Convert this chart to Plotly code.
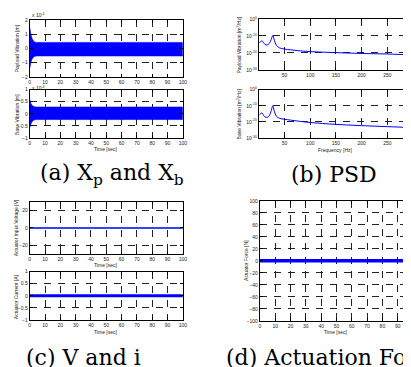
import plotly.graph_objects as go

W, H = 411, 367

# ---------------- data ----------------
# (a) time-domain vibration envelopes (units of 1e-4 m)
t_env = [0, 0.3, 0.8, 1.5, 2.5, 4, 100]
payload_upper = [1.45, 1.2, 0.95, 0.7, 0.5, 0.42, 0.42]
payload_lower = [-1.4, -1.2, -0.95, -0.75, -0.6, -0.53, -0.53]
base_upper = [0.6, 0.5, 0.42, 0.35, 0.3, 0.28, 0.28]
base_lower = [-0.58, -0.5, -0.42, -0.33, -0.27, -0.24, -0.24]

# (b) PSD (log10 of m^2/Hz)
freq = [1, 3, 6, 9, 12, 16, 20, 24, 27, 30, 34, 40, 50, 75, 100, 150, 200, 250, 300]
psd_payload_log10 = [-14.2, -13.5, -12.8, -14.0, -15.0, -15.3, -14.5, -12.0, -9.8,
                     -12.5, -15.5, -17.0, -17.7, -18.6, -19.2, -19.8, -20.3, -20.6, -21.2]
psd_base_log10 = [-15.6, -15.0, -14.4, -16.0, -17.0, -17.2, -16.3, -13.0, -10.0,
                  -13.5, -16.5, -17.8, -18.4, -19.5, -20.4, -21.6, -22.4, -23.0, -23.6]

# (c), (d) actuator signals
t_line = [0, 100]
voltage = [0, 0]
current = [0, 0]
force = [0, 0]

time_ticks = [0, 10, 20, 30, 40, 50, 60, 70, 80, 90, 100]
freq_ticks = [50, 100, 150, 200, 250, 300]
psd_ticks = [1e0, 1e-10, 1e-20, 1e-30]
psd_ticklabels = ["10<sup>0</sup>", "10<sup>-10</sup>", "10<sup>-20</sup>", "10<sup>-30</sup>"]

# ---------------- layout helpers ----------------
BLUE = "#0000ff"
TICKFONT = dict(family="Liberation Sans, Arial, sans-serif", size=5, color="#222222")
TITLEFONT = dict(family="Liberation Sans, Arial, sans-serif", size=5, color="#222222")

def xdom(a, b):
    return [a / W, b / W]

def ydom(top, bottom):
    return [1 - bottom / H, 1 - top / H]

def axis_common():
    return dict(showline=True, linecolor="black", linewidth=1, mirror="ticks",
                ticks="inside", ticklen=3, tickcolor="black", tickwidth=1,
                showgrid=True, gridcolor="#222222", gridwidth=1, griddash="7px,7px",
                zeroline=False, tickfont=TICKFONT)

fig = go.Figure()
layout = dict(width=W, height=H, margin=dict(l=0, r=0, t=0, b=0),
              paper_bgcolor="white", plot_bgcolor="white", showlegend=False)

panels = [
    ("1", (21, 176), (9, 67)),
    ("2", (21, 176), (80, 129)),
    ("3", (253, 409), (8, 60)),
    ("4", (253, 409), (80, 129)),
    ("5", (21, 176), (194, 247)),
    ("6", (21, 176), (265, 314)),
    ("7", (254, 409), (193, 315)),
]
for name, xp, yp in panels:
    xa = axis_common()
    ya = axis_common()
    xa.update(domain=xdom(*xp), anchor="y" + name)
    ya.update(domain=ydom(*yp), anchor="x" + name)
    layout["xaxis" + name] = xa
    layout["yaxis" + name] = ya

for n in ["1", "2", "5", "6", "7"]:
    layout["xaxis" + n].update(range=[0, 100], tickvals=time_ticks)
for n in ["3", "4"]:
    layout["xaxis" + n].update(range=[0, 300], tickvals=freq_ticks)
    layout["yaxis" + n].update(type="log", range=[-30, 0], tickvals=psd_ticks,
                               ticktext=psd_ticklabels)
layout["yaxis1"].update(range=[-2, 2], tickvals=[-2, -1, 0, 1, 2])
layout["yaxis2"].update(range=[-1, 1], tickvals=[-1, -0.5, 0, 0.5, 1])
layout["yaxis5"].update(range=[-30, 30], tickvals=[-20, 0, 20])
layout["yaxis6"].update(range=[-1, 1], tickvals=[-1, -0.5, 0, 0.5, 1])
layout["yaxis7"].update(range=[-100, 100], tickvals=list(range(-100, 101, 20)))

# ---------------- traces ----------------
def band(upper, lower, n):
    fig.add_trace(go.Scatter(x=t_env, y=upper, mode="lines", line=dict(color=BLUE, width=0.6),
                             xaxis="x" + n, yaxis="y" + n, hoverinfo="skip"))
    fig.add_trace(go.Scatter(x=t_env, y=lower, mode="lines", line=dict(color=BLUE, width=0.6),
                             fill="tonexty", fillcolor=BLUE,
                             xaxis="x" + n, yaxis="y" + n, hoverinfo="skip"))

band(payload_upper, payload_lower, "1")
band(base_upper, base_lower, "2")

fig.add_trace(go.Scatter(x=freq, y=[10 ** v for v in psd_payload_log10], mode="lines",
                         line=dict(color=BLUE, width=1, shape="spline"), xaxis="x3", yaxis="y3"))
fig.add_trace(go.Scatter(x=freq, y=[10 ** v for v in psd_base_log10], mode="lines",
                         line=dict(color=BLUE, width=1, shape="spline"), xaxis="x4", yaxis="y4"))

fig.add_trace(go.Scatter(x=t_line, y=voltage, mode="lines", line=dict(color="#3344ff", width=2),
                         xaxis="x5", yaxis="y5"))
fig.add_trace(go.Scatter(x=t_line, y=current, mode="lines", line=dict(color=BLUE, width=3),
                         xaxis="x6", yaxis="y6"))
fig.add_trace(go.Scatter(x=t_line, y=force, mode="lines", line=dict(color=BLUE, width=3.5),
                         xaxis="x7", yaxis="y7"))

# ---------------- annotations (axis titles & captions) ----------------
ann = []

def text_px(x, y, s, font, angle=0, xanchor="center"):
    ann.append(dict(x=x / W, y=1 - y / H, xref="paper", yref="paper", text=s,
                    showarrow=False, font=font, textangle=angle, borderpad=0,
                    xanchor=xanchor, yanchor="middle"))

text_px(98, 140, "Time [sec]", TITLEFONT)
text_px(331, 141, "Frequency [Hz]", TITLEFONT)
text_px(98, 258, "Time [sec]", TITLEFONT)
text_px(98, 326, "Time [sec]", TITLEFONT)
text_px(331, 326, "Time [sec]", TITLEFONT)
text_px(8, 38, "Payload Vibration [m]", TITLEFONT, -90)
text_px(8, 105, "Base Vibration [m]", TITLEFONT, -90)
text_px(233, 34, "Payload Vibration [m<sup>2</sup>/Hz]", TITLEFONT, -90)
text_px(233, 105, "Base Vibration [m<sup>2</sup>/Hz]", TITLEFONT, -90)
text_px(7, 220, "Actuator Input Voltage [V]", TITLEFONT, -90)
text_px(7, 290, "Actuator Current [A]", TITLEFONT, -90)
text_px(240, 254, "Actuator Force [N]", TITLEFONT, -90)
text_px(22, 4, "x 10<sup>-4</sup>", TICKFONT, xanchor="left")
text_px(22, 78, "x 10<sup>-4</sup>", TICKFONT, xanchor="left")

CAP = dict(family="DejaVu Serif, Liberation Serif, serif", size=22, color="black")
text_px(104, 166, "(a) X<sub>p</sub> and X<sub>b</sub>", CAP)
text_px(329, 166, "(b) PSD", CAP)
text_px(16, 352, "(c) V and i", CAP, xanchor="left")
text_px(219, 352, "(d) Actuation Force", CAP, xanchor="left")

layout["annotations"] = ann
fig.update_layout(**layout)
fig.write_html("out.html")
